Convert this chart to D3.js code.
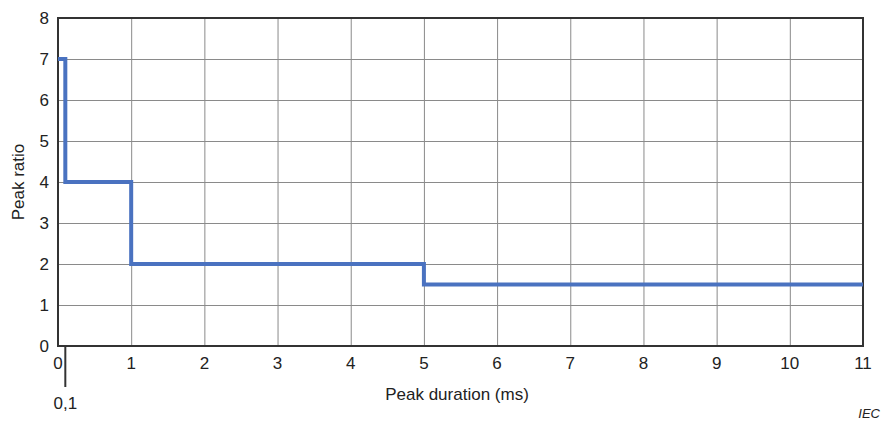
<!DOCTYPE html>
<html>
<head>
<meta charset="utf-8">
<script src="https://cdn.jsdelivr.net/npm/d3@7"></script>
<style>
  body { margin: 0; background: #fff; }
  text { font-family: Arial, "Liberation Sans", sans-serif; fill: #222; }
</style>
</head>
<body>
<svg></svg>
<script>
const durations = [0, 0.1, 0.1, 1, 1, 5, 5, 11];
const ratios = [7, 7, 4, 4, 2, 2, 1.5, 1.5];
const xTicks = [0, 1, 2, 3, 4, 5, 6, 7, 8, 9, 10, 11];
const yTicks = [0, 1, 2, 3, 4, 5, 6, 7, 8];
const marker = 0.1;
const markerLabel = '0,1';

const width = 885, height = 421;
const mLeft = 58, mRight = 863, mTop = 18, mBottom = 346;

let svg = d3.select('svg')
  .attr('width', width)
  .attr('height', height);

let x = d3.scaleLinear().domain([0, 11]).range([mLeft, mRight]);
let y = d3.scaleLinear().domain([0, 8]).range([mBottom, mTop]);

// grid
svg.append('g')
  .attr('transform', `translate(0,${mBottom})`)
  .call(d3.axisBottom(x).tickValues(xTicks).tickSize(-(mBottom - mTop)).tickFormat(''))
  .call(g => g.select('.domain').remove())
  .selectAll('line').attr('stroke', '#8a8a8a').attr('stroke-width', 1);

svg.append('g')
  .attr('transform', `translate(${mLeft},0)`)
  .call(d3.axisLeft(y).tickValues(yTicks).tickSize(-(mRight - mLeft)).tickFormat(''))
  .call(g => g.select('.domain').remove())
  .selectAll('line').attr('stroke', '#8a8a8a').attr('stroke-width', 1);

// tick labels
svg.append('g').selectAll('text')
  .data(xTicks).join('text')
  .attr('x', d => x(d))
  .attr('y', mBottom + 23)
  .attr('text-anchor', 'middle')
  .style('font-size', '17px')
  .text(d => d);

svg.append('g').selectAll('text')
  .data(yTicks).join('text')
  .attr('x', mLeft - 9)
  .attr('y', d => y(d) + 6)
  .attr('text-anchor', 'end')
  .style('font-size', '17px')
  .text(d => d);

// frame
svg.append('rect')
  .attr('x', mLeft).attr('y', mTop)
  .attr('width', mRight - mLeft).attr('height', mBottom - mTop)
  .attr('fill', 'none')
  .attr('stroke', '#333')
  .attr('stroke-width', 2);

// marker line at 0,1
svg.append('line')
  .attr('x1', x(marker)).attr('x2', x(marker))
  .attr('y1', mBottom).attr('y2', 387)
  .attr('stroke', '#333')
  .attr('stroke-width', 2);

svg.append('text')
  .attr('x', x(marker))
  .attr('y', 409)
  .attr('text-anchor', 'middle')
  .style('font-size', '17px')
  .text(markerLabel);

// step line
let line = d3.line().x((d, i) => x(durations[i])).y(d => y(d));
svg.append('path')
  .attr('d', line(ratios))
  .attr('fill', 'none')
  .attr('stroke', '#4a72c0')
  .attr('stroke-width', 4)
  .attr('stroke-linejoin', 'miter');

// axis titles
svg.append('text')
  .attr('x', 457)
  .attr('y', 400)
  .attr('text-anchor', 'middle')
  .style('font-size', '17px')
  .text('Peak duration (ms)');

svg.append('text')
  .attr('transform', `translate(24,${(mTop + mBottom) / 2}) rotate(-90)`)
  .attr('text-anchor', 'middle')
  .style('font-size', '17px')
  .text('Peak ratio');

svg.append('text')
  .attr('x', 880)
  .attr('y', 418)
  .attr('text-anchor', 'end')
  .style('font-size', '13px')
  .style('font-style', 'italic')
  .text('IEC');
</script>
</body>
</html>
